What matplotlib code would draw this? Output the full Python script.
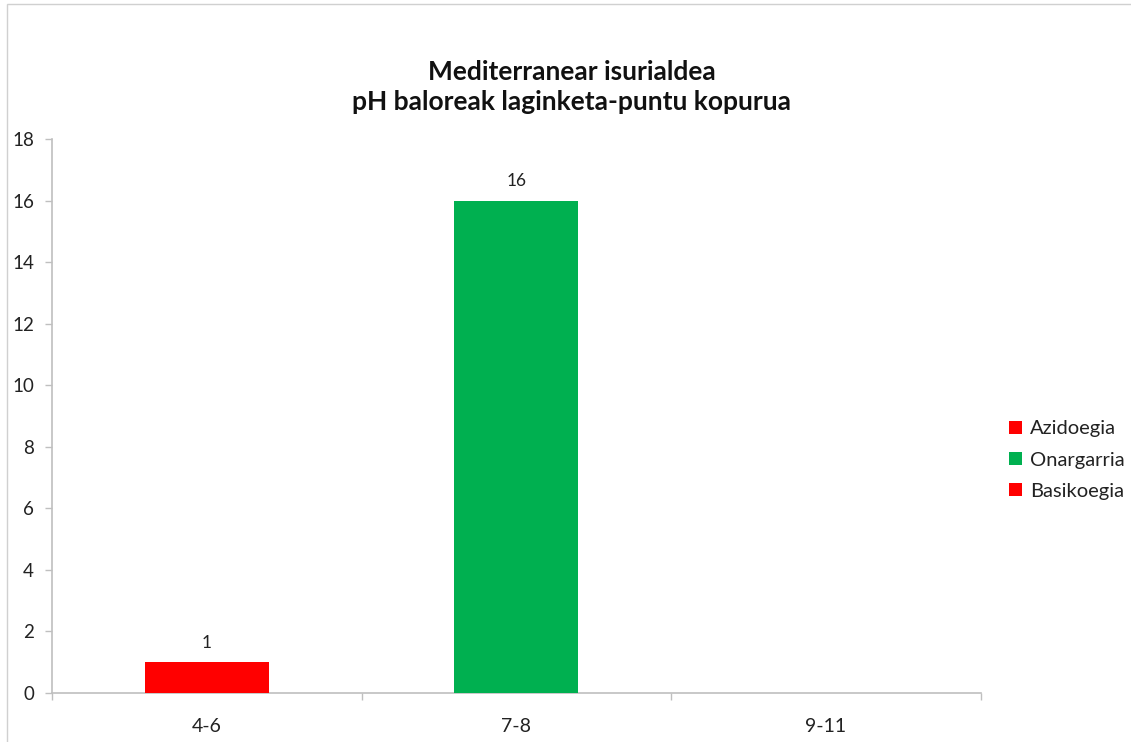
import matplotlib
matplotlib.use("Agg")
import matplotlib.pyplot as plt
from matplotlib.patches import Rectangle, Patch

categories = ["4-6", "7-8", "9-11"]
values = [1, 16, 0]
bar_colors = ["#FF0000", "#00B050", "#FF0000"]
legend_labels = ["Azidoegia", "Onargarria", "Basikoegia"]
legend_colors = ["#FF0000", "#00B050", "#FF0000"]
title = "Mediterranear isurialdea\npH baloreak laginketa-puntu kopurua"
yticks = list(range(0, 19, 2))

plt.rcParams['font.family'] = ['Lato', 'DejaVu Sans']

fig = plt.figure(figsize=(11.31, 7.42), dpi=100)
ax = fig.add_axes([0.046, 0.066, 0.821, 0.7467])

x = list(range(len(categories)))
bars = ax.bar(x, values, width=0.4, color=bar_colors, zorder=3)
for xi, v in zip(x, values):
    if v:
        ax.annotate(str(v), (xi, v), xytext=(0, 8), textcoords="offset points",
                    ha="center", va="bottom", fontsize=12.5, color="#222222")

ax.set_xlim(-0.5, 2.5)
ax.set_ylim(0, 18)
ax.set_yticks(yticks)
ax.set_xticks(x)
ax.set_xticklabels(categories, fontsize=14, color="#222222")
ax.set_xticks([-0.5, 0.5, 1.5, 2.5], minor=True)
ax.tick_params(axis="x", which="major", length=0, pad=18)
ax.tick_params(axis="x", which="minor", length=5, color="#BFBFBF", width=1)
ax.tick_params(axis="y", length=5, color="#BFBFBF", width=1, pad=8, labelsize=13.5, labelcolor="#222222")
for s in ["top", "right"]:
    ax.spines[s].set_visible(False)
for s in ["left", "bottom"]:
    ax.spines[s].set_color("#BFBFBF")
    ax.spines[s].set_linewidth(1.2)

fig.text(0.5057, 0.883, title, ha="center", va="center", fontsize=19, fontweight="bold",
         linespacing=1.3, color="#111111")

handles = [Patch(facecolor=c, edgecolor="none") for c in legend_colors]
leg = fig.legend(handles, legend_labels, loc="center left", bbox_to_anchor=(0.892, 0.38),
                 frameon=False, fontsize=14.5, handlelength=0.65, handleheight=0.65,
                 handletextpad=0.4, labelspacing=0.7, borderaxespad=0, borderpad=0)
for t in leg.get_texts():
    t.set_color("#222222")

fig.patches.append(Rectangle((0.0062, -0.01), 1.1, 1.0046, transform=fig.transFigure,
                             fill=False, edgecolor="#D0D0D0", linewidth=1))

fig.savefig("out.png", dpi=100)
